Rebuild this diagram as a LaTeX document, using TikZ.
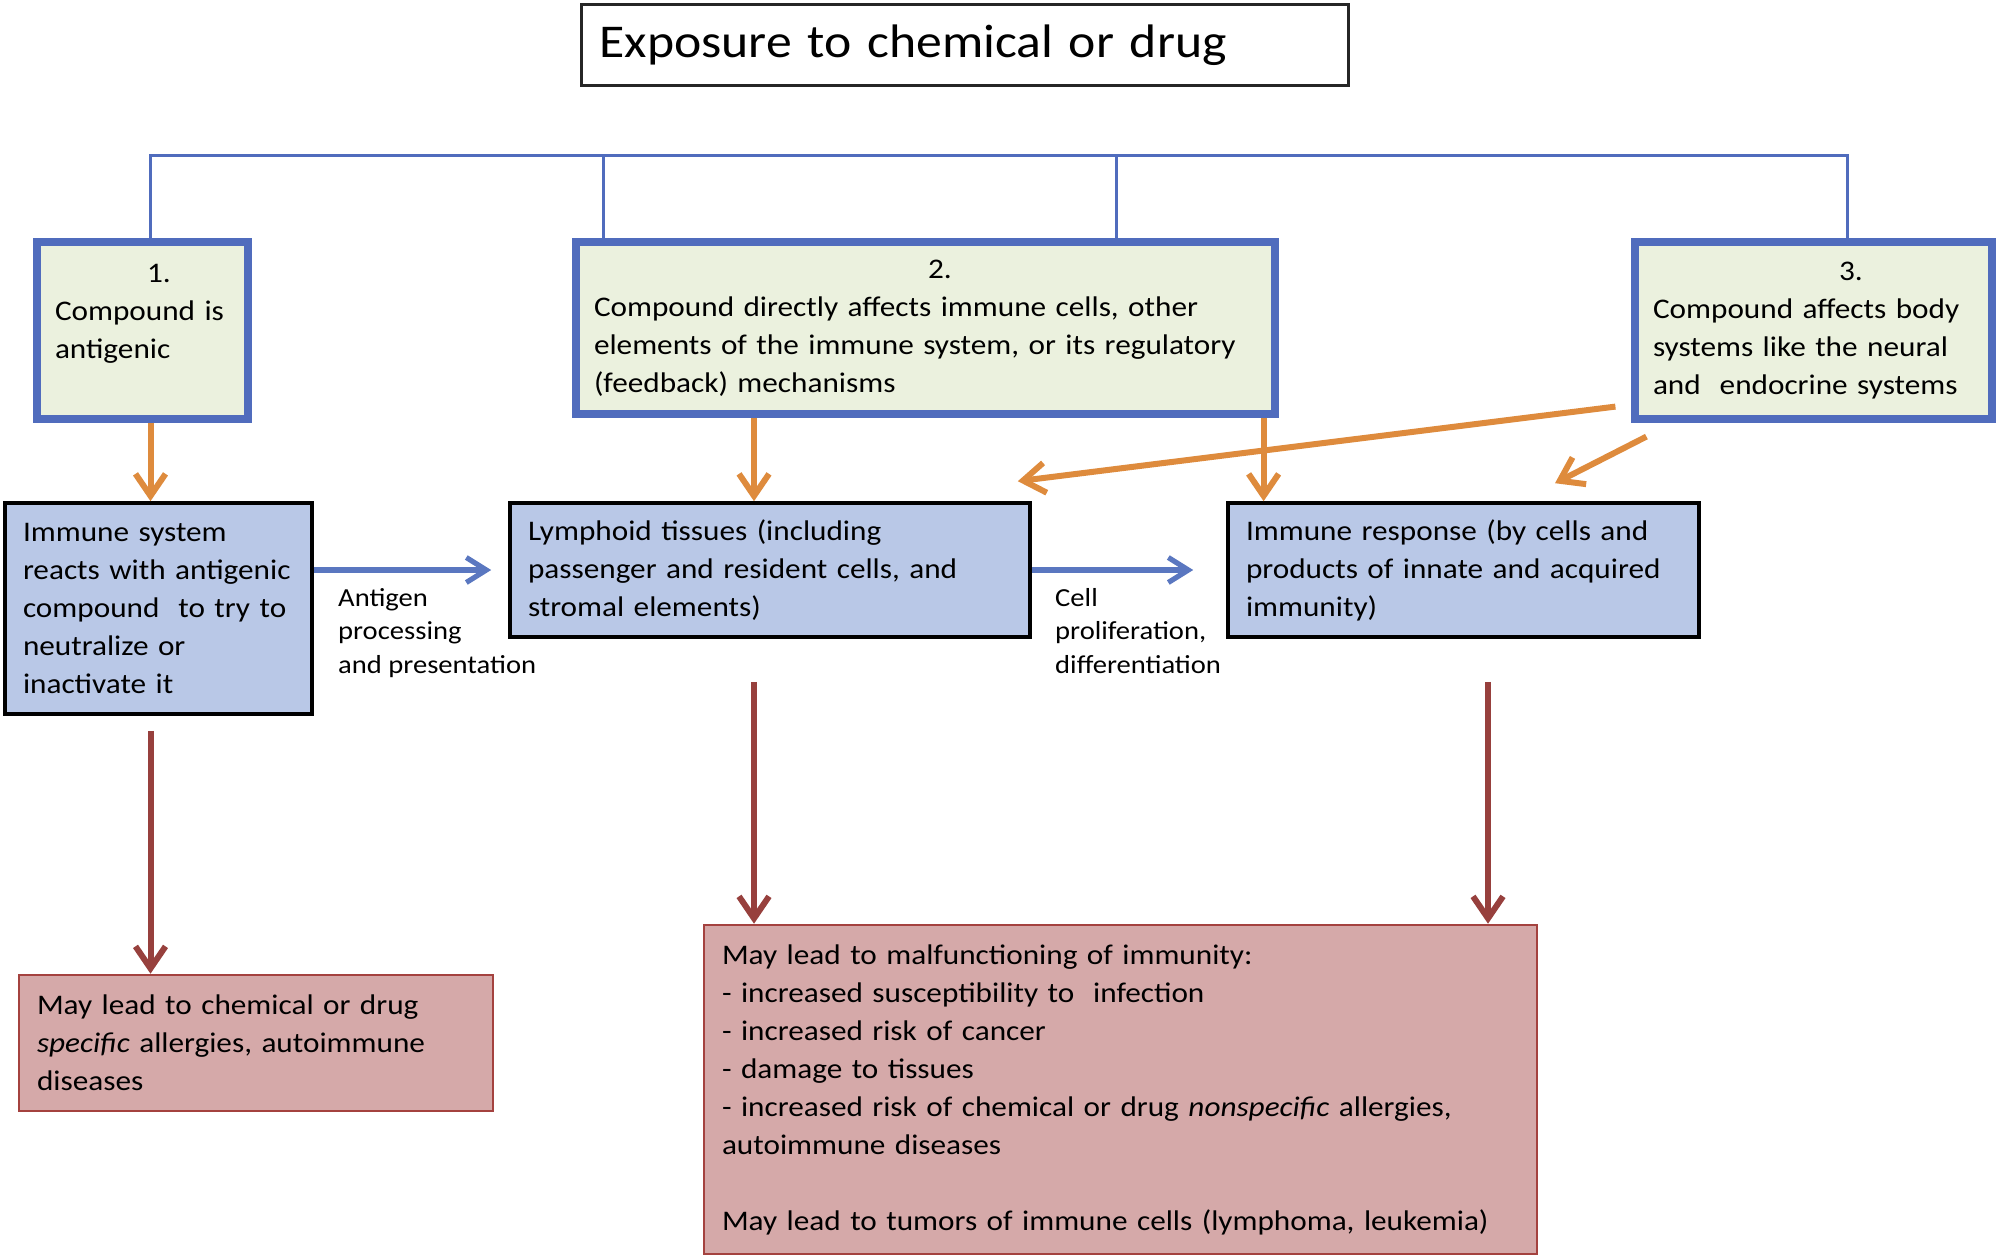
\documentclass[tikz,border=0pt]{standalone}
\usepackage{fontspec}
\setmainfont{Carlito}[FakeStretch=1.1]
\usepackage{xcolor}
\usepackage{tikz}
\usetikzlibrary{arrows.meta,positioning}
\definecolor{causegreen}{HTML}{EBF1DE}
\definecolor{busblue}{HTML}{506CBD}
\definecolor{stageblue}{HTML}{B9C8E7}
\definecolor{arrblue}{HTML}{5A77C0}
\definecolor{arrorange}{HTML}{DE8B3D}
\definecolor{effectfill}{HTML}{D5A9A9}
\definecolor{effectline}{HTML}{A4423F}
\definecolor{arrred}{HTML}{97403D}
\newcommand{\boxfont}{\fontsize{14.2pt}{19pt}\selectfont}
\newcommand{\lblfont}{\fontsize{13pt}{16.7pt}\selectfont}
\newcommand{\headfont}{\fontsize{23.5pt}{28pt}\selectfont}
\tikzset{
  headbox/.style={rectangle, draw=black!85, line width=1.4pt, fill=white,
    inner xsep=9pt, align=left, font=\headfont},
  cause/.style={rectangle, draw=busblue, line width=3.6pt, fill=causegreen,
    inner xsep=9pt, align=left, font=\boxfont},
  stage/.style={rectangle, draw=black, line width=1.8pt, fill=stageblue,
    inner xsep=9pt, align=left, font=\boxfont},
  effect/.style={rectangle, draw=effectline, line width=1.3pt, fill=effectfill,
    inner xsep=9pt, align=left, font=\boxfont},
  lbl/.style={inner sep=0pt, align=left, font=\lblfont},
  bus/.style={draw=busblue, line width=1.5pt},
  orarr/.style={-{Straight Barb[length=11pt,width=15pt]}, draw=arrorange, line width=3pt},
  redarr/.style={-{Straight Barb[length=11pt,width=15pt]}, draw=arrred, line width=3pt},
  bluarr/.style={-{Straight Barb[length=10pt,width=12.5pt]}, draw=arrblue, line width=2.6pt},
}
\begin{document}
\begin{tikzpicture}[x=0.5pt, y=-0.5pt]
  \useasboundingbox (0,0) rectangle (2000,1258);
  \node[headbox, text width=365.5pt, minimum height=40.5pt] (expo) at (965,45) {Exposure to chemical or drug};

  % three ways the compound acts
  \node[cause, text width=87.5pt, minimum height=88.5pt] (antig) at (142.5,330.5)
    {\hspace*{46pt}1.\\Compound is\\antigenic\\\mbox{}};
  \node[cause, text width=331.5pt, minimum height=86pt] (direct) at (925.5,328)
    {\hspace*{167pt}2.\\Compound directly affects immune cells, other\\elements of the immune system, or its regulatory\\(feedback) mechanisms};
  \node[cause, text width=160.5pt, minimum height=88.5pt] (body) at (1813.5,330.5)
    {\hspace*{93pt}3.\\Compound affects body\\systems like the neural\\and\ \ endocrine systems};

  \node[stage, text width=135.5pt, minimum height=105.5pt] (react) at (158.5,608.5)
    {Immune system\\reacts with antigenic\\compound\ \ to try to\\neutralize or\\inactivate it};
  \node[stage, text width=242pt, minimum height=67pt] (lymph) at (770,570)
    {Lymphoid tissues (including\\passenger and resident cells, and\\stromal elements)};
  \node[stage, text width=217.5pt, minimum height=67pt] (resp) at (1463.5,570)
    {Immune response (by cells and\\products of innate and acquired\\immunity)};

  \node[effect, text width=219pt, minimum height=68pt] (spec) at (256,1043)
    {May lead to chemical or drug\\\textit{specific} allergies, autoimmune\\diseases};
  \node[effect, text width=398.5pt, minimum height=164.5pt] (malf) at (1120.5,1089.5)
    {May lead to malfunctioning of immunity:\\- increased susceptibility to\ \ infection\\- increased risk of cancer\\- damage to tissues\\- increased risk of chemical or drug \textit{nonspecific} allergies,\\autoimmune diseases\\[19pt]May lead to tumors of immune cells (lymphoma, leukemia)};

  % bus from the exposure
  \draw[bus] ([xshift=4pt]antig.north) -- ++(0,-83) -| ([xshift=16.75pt]body.north);
  \draw[bus] ([xshift=15.5pt]direct.north west) -- ++(0,-83);
  \draw[bus] ([xshift=-81pt]direct.north east) -- ++(0,-83);

  \coordinate (o1) at ([xshift=4pt]antig.south);
  \coordinate (o2) at ([xshift=-8pt]lymph.north);
  \coordinate (o3) at ([xshift=-7.5pt]direct.south east);
  \draw[orarr] (o1) -- (o1 |- react.north);
  \draw[orarr] (o2 |- direct.south) -- (o2);
  \draw[orarr] (o3) -- (o3 |- resp.north);
  \draw[orarr] ([xshift=-8pt,yshift=8pt]body.south west) -- ([xshift=-7pt,yshift=10pt]lymph.north east);
  \draw[orarr] ([xshift=7.5pt,yshift=-7pt]body.south west) -- ([xshift=45.75pt,yshift=9pt]resp.north);

  \coordinate (agS) at (react.east |- lymph.west);
  \draw[bluarr] (agS) -- ([xshift=-8.5pt]lymph.west);
  \draw[bluarr] (lymph.east) -- ([xshift=-16.5pt]resp.west);
  \node[lbl, below right=9pt and 12pt of agS] (agL) {Antigen\\processing\\and presentation};
  \node[lbl, below right=9pt and 11.5pt of lymph.east] (cpL) {Cell\\proliferation,\\differentiation};

  \coordinate (r1) at ([xshift=-4pt,yshift=-7.5pt]react.south);
  \coordinate (r2) at ([xshift=-8pt,yshift=-21.5pt]lymph.south);
  \coordinate (r3) at ([xshift=12.25pt,yshift=-21.5pt]resp.south);
  \draw[redarr] (r1) -- (r1 |- spec.north);
  \draw[redarr] (r2) -- (r2 |- malf.north);
  \draw[redarr] (r3) -- (r3 |- malf.north);
\end{tikzpicture}
\end{document}
